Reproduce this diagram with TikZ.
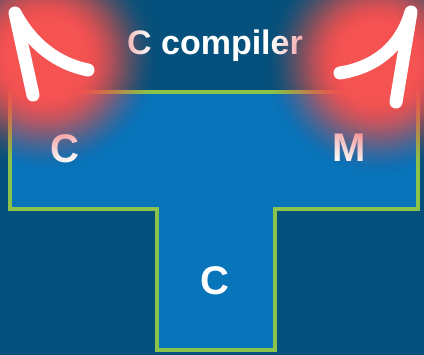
\documentclass[tikz,border=0pt]{standalone}
\usepackage{fontspec}
\setmainfont{Liberation Sans}
\definecolor{bgblue}{RGB}{6,80,125}
\definecolor{tblue}{RGB}{8,116,186}
\definecolor{tgreen}{RGB}{139,195,74}
\definecolor{glowred}{RGB}{245,82,82}
\tikzset{
  tshape/.style={fill=tblue, draw=tgreen, line width=4pt, line join=miter},
  lbl/.style={text=white, font=\bfseries\fontsize{40}{44}\selectfont, inner sep=0pt},
  title/.style={text=white, font=\bfseries\fontsize{34}{40}\selectfont, inner sep=0pt},
  handarrow/.style={draw=white, line width=13pt, line cap=round, line join=round}
}
% smooth radial glow built from stacked translucent discs
\newcommand{\redglow}[4]{% center x, center y, outer radius, inner radius
  \foreach \k in {1,...,40}{%
    \pgfmathsetmacro{\rad}{#3-(\k-1)*(#3-#4)/40}%
    \pgfmathsetmacro{\tA}{1-(3*(\k/40)^2-2*(\k/40)^3)}%
    \pgfmathsetmacro{\tB}{1-(3*((\k-1)/40)^2-2*((\k-1)/40)^3)}%
    \pgfmathsetmacro{\op}{1-\tA/\tB}%
    \fill[glowred, fill opacity=\op] (#1,#2) circle (\rad);
  }}
\begin{document}
\begin{tikzpicture}[x=1pt, y=-1pt]
\useasboundingbox (0,0) rectangle (424,355);
\fill[bgblue] (0,0) rectangle (424,355);
\draw[tshape] (10,92) -- (418,92) -- (418,209) -- (275,209) -- (275,350) -- (157,350) -- (157,209) -- (10,209) -- cycle;
\node[title] (tc) at (215,46) {C compiler};
\node[lbl] (cl) at (65,149) {C};
\node[lbl] (mr) at (349,148) {M};
\node[lbl] (cs) at (215,281) {C};
\redglow{46}{58}{115}{38}
\redglow{378}{62}{115}{38}
\draw[handarrow] (88,70) .. controls (58,64) and (32,45) .. (15,13) -- (33,95);
\draw[handarrow] (340,73) .. controls (372,68) and (400,50) .. (411,12) -- (396,102);
\end{tikzpicture}
\end{document}
